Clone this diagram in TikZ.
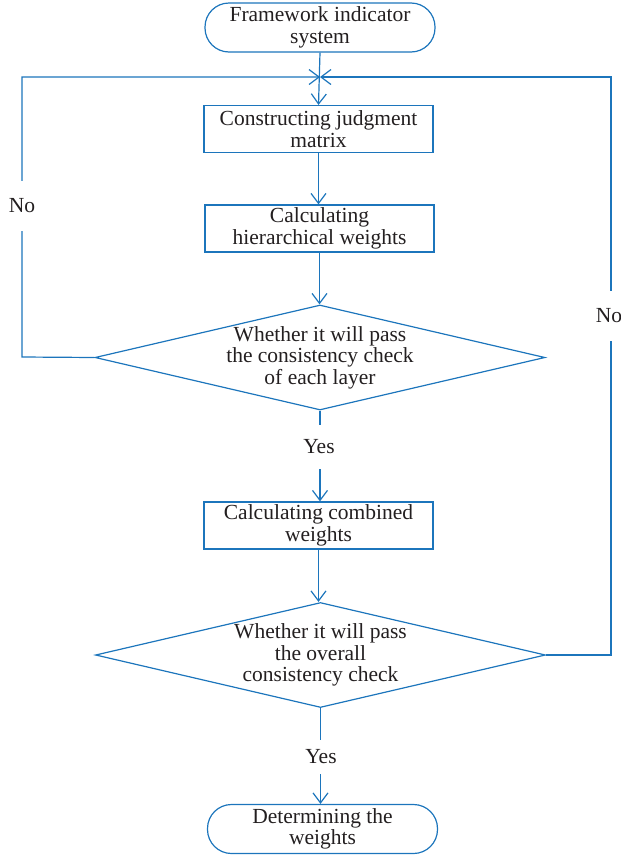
\documentclass[tikz,border=0pt]{standalone}
\usepackage{fontspec}
\setmainfont{Liberation Serif}
\usetikzlibrary{arrows.meta,shapes.geometric}
\definecolor{flowblue}{RGB}{28,117,188}
\definecolor{txtcol}{RGB}{35,31,32}
\begin{document}
\begin{tikzpicture}[x=1pt,y=-1pt,
  every node/.style={font=\fontsize{21.5}{21.5}\selectfont, text=txtcol, align=center},
  term/.style={draw=flowblue, line width=1.2pt, rounded corners=24pt, minimum width=230pt, minimum height=49pt, inner sep=0pt},
  proc/.style={draw=flowblue, line width=1.2pt, minimum width=229pt, minimum height=47pt, inner sep=0pt},
  decide/.style={draw=flowblue, line width=1.2pt, diamond, minimum width=450pt, minimum height=105pt, inner sep=0pt},
  conn/.style={draw=flowblue, line width=1.2pt},
  arr/.style={conn, -{Straight Barb[length=10pt,width=15pt,line width=1.2pt]}},
  gaplabel/.style={fill=white, inner xsep=1pt, minimum height=50pt}
]
\useasboundingbox (0,0) rectangle (621,857);

% nodes
\node[term] (start) at (320,27.5) {Framework indicator\\system};
\node[proc] (b1) at (318.5,129) {Constructing judgment\\matrix};
\node[proc] (b2) at (319.5,228.5) {Calculating\\hierarchical weights};
\node[decide] (d1) at (320,357.5) {};
\node (d1t) at (d1.center) {Whether it will pass\\the consistency check\\of each layer};
\node[proc] (b3) at (318.5,525.5) {Calculating combined\\weights};
\node[decide] (d2) at (320.5,655) {};
\node (d2t) at (d2.center) {Whether it will pass\\the overall\\consistency check};
\node[term] (end) at (322.5,829) {Determining the\\weights};

% junction and loop corners
\coordinate (jn) at (start.south |- 0,77);
\coordinate (lb) at (22,357);
\coordinate (lt) at (22,77);
\coordinate (rb) at (611,655);
\coordinate (rt) at (611,77);

% connectors
\draw[arr] (start.south) -- (b1.north);
\draw[arr] (b1.south) -- (b1.south |- b2.north);
\draw[arr] (b2.south) -- (b2.south |- d1.north);
\draw[arr] (d1.south) -- (d1.south |- b3.north);
\draw[arr] (b3.south) -- (b3.south |- d2.north);
\draw[arr] (d2.south) -- (d2.south |- end.north);
\draw[arr] (d1.west) -- (lb) -- (lt) -- (jn);
\draw[arr] (d2.east) -- (rb) -- (rt) -- (jn);

% labels
\node[gaplabel] (no1) at (22,206) {No};
\node[gaplabel] (no2) at (609,316) {No};
\node[gaplabel, minimum height=44pt] (yes1) at (319,447) {Yes};
\node[gaplabel, minimum height=34pt] (yes2) at (321,757) {Yes};
\end{tikzpicture}
\end{document}
